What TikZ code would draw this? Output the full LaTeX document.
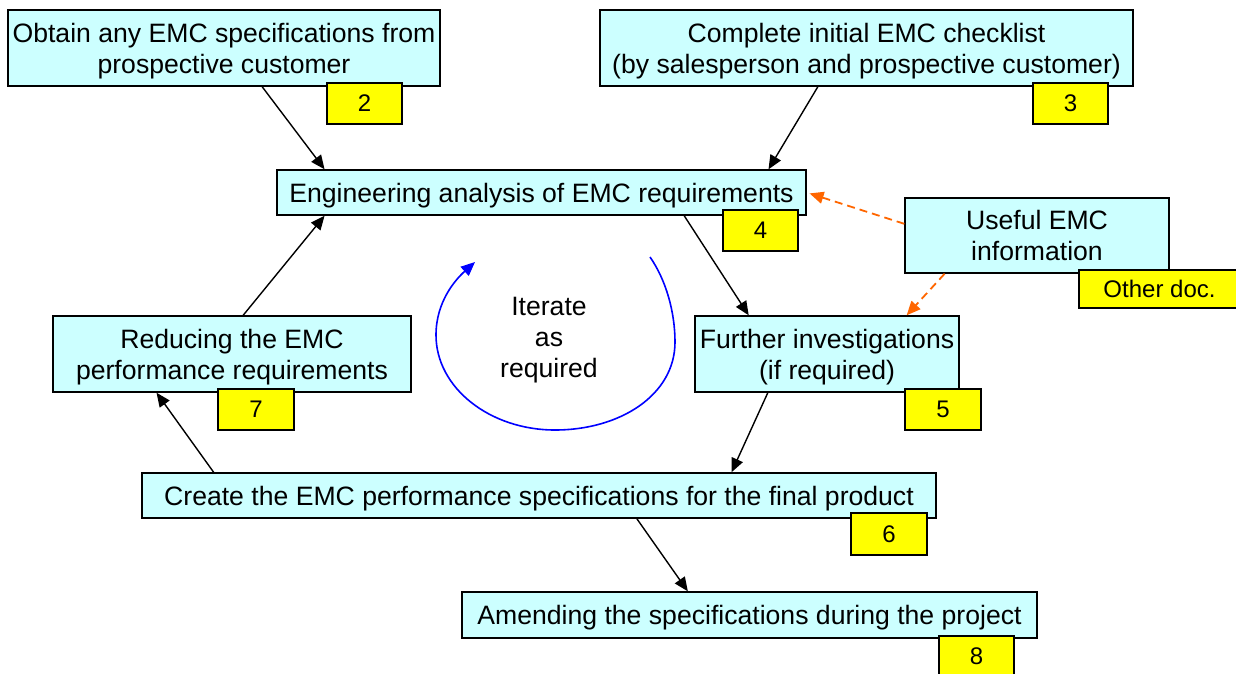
\documentclass[tikz,border=0pt]{standalone}
\usepackage{fontspec}
\setmainfont{Liberation Sans}
\usetikzlibrary{calc,arrows.meta}

\definecolor{boxfill}{HTML}{CCFFFF}
\definecolor{tagfill}{HTML}{FFFF00}
\definecolor{infoline}{HTML}{FF6600}
\definecolor{loopline}{HTML}{0000FF}

\tikzset{
  stepbox/.style={draw=black, line width=1.4pt, fill=boxfill, inner sep=0pt,
    align=center, text depth=0pt, font=\fontsize{26.6}{31}\selectfont},
  tagbox/.style={draw=black, line width=1.4pt, fill=tagfill, inner sep=0pt,
    text depth=0pt, font=\fontsize{24}{28}\selectfont},
  flow/.style={line width=1.4pt, -{Triangle[length=14pt,width=12pt]}},
  infoflow/.style={line width=1.8pt, infoline, dash pattern=on 8pt off 5pt,
    -{Triangle[length=14pt,width=12pt]}},
}

\begin{document}
\begin{tikzpicture}[x=1pt,y=-1pt]
\useasboundingbox (0,0) rectangle (1236,673);

% process steps
\node[stepbox, minimum width=432pt, minimum height=76pt] (obtain) at (224,48)
  {Obtain any EMC specifications from\\prospective customer};
\node[stepbox, minimum width=533pt, minimum height=76pt] (check) at (866.5,48)
  {Complete initial EMC checklist\\(by salesperson and prospective customer)};
\node[stepbox, minimum width=529pt, minimum height=45pt] (ana) at (541.5,192.5)
  {Engineering analysis of EMC requirements};
\node[stepbox, minimum width=264pt, minimum height=75pt] (info) at (1037,235.5)
  {Useful EMC\\information};
\node[stepbox, minimum width=358pt, minimum height=76pt] (reduce) at (232,354)
  {Reducing the EMC\\performance requirements};
\node[stepbox, minimum width=264pt, minimum height=76pt] (further) at (827,354)
  {Further investigations\\(if required)};
\node[stepbox, minimum width=794pt, minimum height=45pt] (create) at (539,495.5)
  {Create the EMC performance specifications for the final product};
\node[stepbox, minimum width=575pt, minimum height=46pt] (amend) at (749.5,615)
  {Amending the specifications during the project};

% reference tags
\node[tagbox, minimum width=75pt, minimum height=41pt] (t2) at (364.5,103.5) {2};
\node[tagbox, minimum width=75pt, minimum height=41pt] (t3) at (1070.5,103.5) {3};
\node[tagbox, minimum width=75pt, minimum height=41pt] (t4) at (760.5,230.5) {4};
\node[tagbox, minimum width=161pt, minimum height=38pt] (tdoc) at (1159.5,289) {Other doc.};
\node[tagbox, minimum width=76pt, minimum height=41pt] (t7) at (256,409.5) {7};
\node[tagbox, minimum width=76pt, minimum height=41pt] (t5) at (943,409.5) {5};
\node[tagbox, minimum width=76pt, minimum height=42pt] (t6) at (889,534) {6};
\node[tagbox, minimum width=75pt, minimum height=41pt] (t8) at (976.5,656.5) {8};

% flow between steps
\draw[flow] ($(obtain.south west)!0.588!(obtain.south east)$) -- ($(ana.north west)!0.091!(ana.north east)$);
\draw[flow] ($(check.south west)!0.409!(check.south east)$) -- ($(ana.north west)!0.928!(ana.north east)$);
\draw[flow] ($(ana.south west)!0.769!(ana.south east)$) -- ($(further.north west)!0.205!(further.north east)$);
\draw[flow] ($(further.south west)!0.277!(further.south east)$) -- ($(create.north west)!0.742!(create.north east)$);
\draw[flow] ($(create.north west)!0.091!(create.north east)$) -- ($(reduce.south west)!0.29!(reduce.south east)$);
\draw[flow] ($(reduce.north west)!0.531!(reduce.north east)$) -- ($(ana.south west)!0.091!(ana.south east)$);
\draw[flow] ($(create.south west)!0.623!(create.south east)$) -- ($(amend.north west)!0.393!(amend.north east)$);

% supporting information
\draw[infoflow, shorten >=3pt] ($(info.north west)!0.347!(info.south west)$) -- (ana.east);
\draw[infoflow] ($(info.south west)!0.152!(info.south east)$) -- ($(further.north west)!0.8!(further.north east)$);

% iteration loop
\coordinate (loopA) at (650,257);
\coordinate (loopB) at (675,342);
\coordinate (loopC) at (555,430);
\coordinate (loopD) at (436,335);
\coordinate (loopE) at (475,262);
\draw[loopline, line width=1.6pt, -{Triangle[length=14pt,width=12pt]}]
  (loopA) .. controls (666,280) and (675,312) .. (loopB)
          .. controls (675,395) and (620,430) .. (loopC)
          .. controls (490,430) and (436,388) .. (loopD)
          .. controls (436,302) and (455,280) .. (loopE);
\node[align=center, font=\fontsize{26.6}{31}\selectfont] (iter) at (549,340)
  {Iterate\\as\\required};
\end{tikzpicture}
\end{document}
